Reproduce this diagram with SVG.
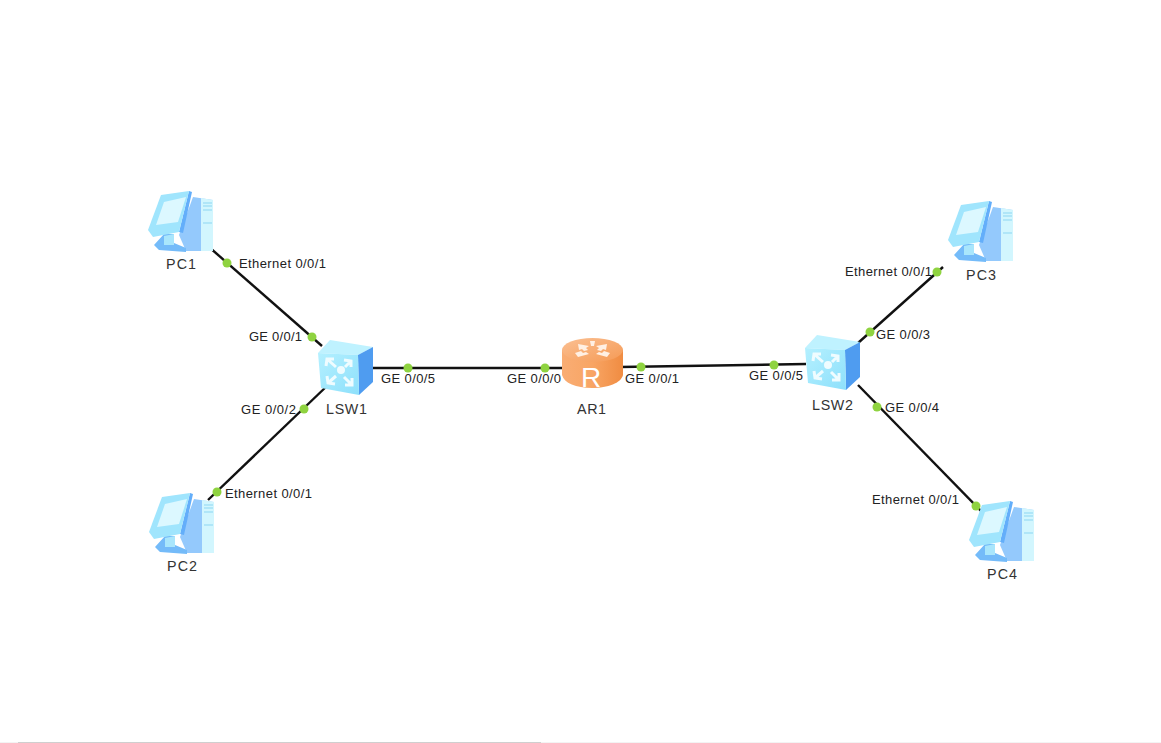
<svg xmlns="http://www.w3.org/2000/svg" width="1161" height="743" viewBox="0 0 1161 743">
<style>
text{font-family:"Liberation Sans",Arial,sans-serif;font-size:13px;fill:#222}
.name{font-size:14.3px;fill:#333}
.link{stroke:#111;stroke-width:2.4;fill:none}
.dot{fill:#8fd340}
</style>
<defs>
<linearGradient id="sw" x1="0" y1="0" x2="1" y2="1"><stop offset="0" stop-color="#b4f0ff"/><stop offset="1" stop-color="#8ee0fb"/></linearGradient>
<linearGradient id="rt" x1="0" y1="0" x2="1" y2="0"><stop offset="0" stop-color="#f9ad74"/><stop offset=".5" stop-color="#f8a564"/><stop offset="1" stop-color="#f08c42"/></linearGradient>
<linearGradient id="rtop" x1="0" y1="0" x2="1" y2="1"><stop offset="0" stop-color="#fbc093"/><stop offset="1" stop-color="#f59a55"/></linearGradient>
<g id="pc">
<path d="M44 7L64 10V61H37L30 45Z" fill="#94c9fc"/>
<path d="M52 8L64 10V61H52Z" fill="#d2f6fe"/>
<path d="M54 13H63M54 16H63M54 20H63M54 33H63" stroke="#8dd6f2" stroke-width="1" fill="none"/>
<path d="M5 55L15 44L25 44L25 53L37 58V62L10 60Z" fill="#74bbf9"/>
<path d="M15 46L25 44V55L15 55Z" fill="#a9e6fc"/>
<path d="M40 1L43 2L34 43L30 42Z" fill="#63aefa"/>
<path d="M-1 40L12 5L40 1L30 42L4 47Z" fill="#a0e5fd"/>
<path d="M7 35L15 12L37 7L29 32Z" fill="#dcf8ff"/>
</g>
<g id="switch">
<path d="M0 13L12 0L55 7L40 15Z" fill="#bff2ff"/>
<path d="M40 15L55 7V42L41 55Z" fill="#4f9cf0"/>
<path d="M0 13L40 15L41 55L3 48Z" fill="url(#sw)"/>
<g fill="none" stroke="#effcff" stroke-width="3">
<path d="M9 19L18 27M8 26L9 19L16 19"/>
<path d="M33 21L27 27M26 20L33 21L33 27"/>
<path d="M10 43L18 36M9 36L10 43L17 44"/>
<path d="M34 45L26 37M34 38L34 45L27 45"/>
</g>
<circle cx="23" cy="30" r="4" fill="#effcff"/>
</g>
<g id="router">
<path d="M0 12V37C2 45 14 50 30 50C46 50 59 45 61 37V12Z" fill="url(#rt)"/>
<ellipse cx="30.500" cy="12" rx="30.500" ry="12" fill="url(#rtop)"/>
<g fill="#fff0e4">
<path d="M16 6L27 8L24 10L26 12L22 13L20 11L17 12Z"/>
<path d="M45 6L34 8L37 10L35 12L39 13L41 11L44 12Z"/>
<path d="M16 19L27 16L24 14L21 15L19 13L13 15Z"/>
<path d="M45 19L34 16L37 14L40 15L42 13L48 15Z"/>
<path d="M28 3H33L32 8H29Z"/>
</g>
<text x="29" y="49" text-anchor="middle" style="font-size:28px;fill:#fff">R</text>
</g>
</defs>
<rect width="1161" height="743" fill="#fff"/>
<rect x="0" y="742" width="1161" height="1" fill="#f3f3f3"/>
<rect x="18" y="742" width="523" height="1" fill="#cfcfcf"/>
<g id="connectors">
<path class="link" d="M209 247L322 346"/>
<path class="link" d="M208 500L328 385"/>
<path class="link" d="M372 368H565"/>
<path class="link" d="M620 367L806 364"/>
<path class="link" d="M943 267L858 343"/>
<path class="link" d="M858 385L982 512"/>
<circle class="dot" cx="227" cy="263" r="4.500"/>
<circle class="dot" cx="312" cy="337" r="4.500"/>
<circle class="dot" cx="304" cy="409" r="4.500"/>
<circle class="dot" cx="217" cy="492" r="4.500"/>
<circle class="dot" cx="408" cy="368" r="4.500"/>
<circle class="dot" cx="545" cy="368" r="4.500"/>
<circle class="dot" cx="641" cy="367" r="4.500"/>
<circle class="dot" cx="774" cy="365" r="4.500"/>
<circle class="dot" cx="937" cy="272" r="4.500"/>
<circle class="dot" cx="870" cy="332" r="4.500"/>
<circle class="dot" cx="877" cy="407" r="4.500"/>
<circle class="dot" cx="976" cy="506" r="4.500"/>
</g>
<g id="PC1"><use href="#pc" x="149" y="190"/><text class="name" x="181" y="269" text-anchor="middle" textLength="30">PC1</text></g>
<g id="PC2"><use href="#pc" x="150" y="492"/><text class="name" x="182" y="571" text-anchor="middle" textLength="30">PC2</text></g>
<g id="PC3"><use href="#pc" x="949" y="200"/><text class="name" x="981" y="280" text-anchor="middle" textLength="30">PC3</text></g>
<g id="PC4"><use href="#pc" x="970" y="500"/><text class="name" x="1002" y="579" text-anchor="middle" textLength="30">PC4</text></g>
<g id="LSW1"><use href="#switch" x="318" y="340"/><text class="name" x="326" y="414" textLength="41">LSW1</text></g>
<g id="LSW2"><use href="#switch" x="805" y="335"/><text class="name" x="812" y="410" textLength="41">LSW2</text></g>
<g id="AR1"><use href="#router" x="562" y="338"/><text class="name" x="577" y="414" textLength="29">AR1</text></g>
<g id="labels">
<text x="239" y="268" textLength="87">Ethernet 0/0/1</text>
<text x="249" y="341" textLength="53">GE 0/0/1</text>
<text x="241" y="414" textLength="55">GE 0/0/2</text>
<text x="225" y="498" textLength="87">Ethernet 0/0/1</text>
<text x="381" y="383" textLength="54">GE 0/0/5</text>
<text x="507" y="383" textLength="54">GE 0/0/0</text>
<text x="625" y="383" textLength="54">GE 0/0/1</text>
<text x="749" y="380" textLength="54">GE 0/0/5</text>
<text x="845" y="276" textLength="87">Ethernet 0/0/1</text>
<text x="876" y="339" textLength="54">GE 0/0/3</text>
<text x="885" y="412" textLength="54">GE 0/0/4</text>
<text x="872" y="504" textLength="87">Ethernet 0/0/1</text>
</g>
</svg>
